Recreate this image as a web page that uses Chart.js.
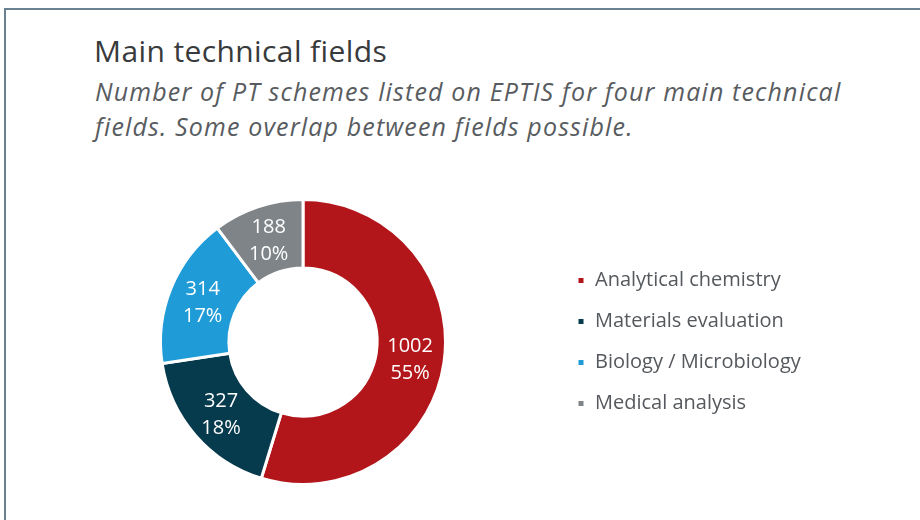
<!DOCTYPE html>
<html>
<head>
<meta charset="utf-8">
<script src="https://cdn.jsdelivr.net/npm/chart.js@4.4.1/dist/chart.umd.min.js"></script>
<style>
  html, body { margin: 0; padding: 0; background: #fff; }
  body { width: 920px; height: 520px; position: relative; overflow: hidden; font-family: "Open Sans", sans-serif; }
  .frame { position: absolute; left: 4px; top: 8px; width: 1000px; height: 600px;
           border-top: 2px solid #6a8191; border-left: 2px solid #6a8191; }
  .title { position: absolute; left: 94px; top: 33px; font-size: 30px; line-height: 36px;
           letter-spacing: 0.4px; color: #383a3c; }
  .subtitle { position: absolute; left: 95px; top: 74px; font-size: 25px; line-height: 35px;
              letter-spacing: 1.15px; font-style: italic; color: #585c60; width: 820px; }
  canvas { position: absolute; left: 0; top: 0; }
</style>
</head>
<body>
<div class="frame"></div>
<div class="title">Main technical fields</div>
<div class="subtitle">Number of PT schemes listed on EPTIS for four main technical<br>fields. Some overlap between fields possible.</div>
<canvas id="fieldsChart" width="920" height="520"></canvas>
<script>
  // Data
  const fields = ["Analytical chemistry", "Materials evaluation", "Biology / Microbiology", "Medical analysis"];
  const schemeCounts = [1002, 327, 314, 188];
  const percentLabels = ["55%", "18%", "17%", "10%"];
  const fieldColors = ["#b3161a", "#063a4d", "#1f9bd7", "#7f8488"];

  const legendFont = { family: "Open Sans", size: 20 };
  const legendPad = 21;

  // Size the right padding so the legend lands where it is in the reference
  // (vertical legends get 10px extra width in Chart.js)
  const measureCtx = document.createElement("canvas").getContext("2d");
  measureCtx.font = legendFont.size + "px " + legendFont.family;
  const widest = Math.max(...fields.map((f) => measureCtx.measureText(f).width));
  const legendLeft = 556;
  const rightPad = 920 - (legendLeft + legendPad + 8 + legendFont.size / 2 + widest + 10);

  // Draws value and share inside every slice
  const sliceLabels = {
    id: "sliceLabels",
    afterDatasetsDraw(chart) {
      const ctx = chart.ctx;
      const meta = chart.getDatasetMeta(0);
      ctx.save();
      ctx.fillStyle = "#ffffff";
      ctx.font = "20px 'Open Sans'";
      ctx.textAlign = "center";
      ctx.textBaseline = "middle";
      meta.data.forEach((arc, i) => {
        const p = arc.getCenterPoint();
        ctx.fillText(String(schemeCounts[i]), p.x, p.y - 12);
        ctx.fillText(percentLabels[i], p.x, p.y + 15);
      });
      ctx.restore();
    }
  };

  new Chart(document.getElementById("fieldsChart"), {
    type: "doughnut",
    data: {
      labels: fields,
      datasets: [{
        data: schemeCounts,
        backgroundColor: fieldColors,
        borderColor: "#ffffff",
        borderWidth: 3,
        hoverOffset: 0
      }]
    },
    options: {
      responsive: false,
      animation: false,
      devicePixelRatio: 1,
      cutout: "52%",
      layout: { padding: { left: 50, right: rightPad, top: 198, bottom: 34 } },
      plugins: {
        tooltip: { enabled: false },
        legend: {
          position: "right",
          labels: {
            boxWidth: 8,
            boxHeight: 8,
            padding: legendPad,
            color: "#55595d",
            font: legendFont
          }
        }
      }
    },
    plugins: [sliceLabels]
  });
</script>
</body>
</html>
